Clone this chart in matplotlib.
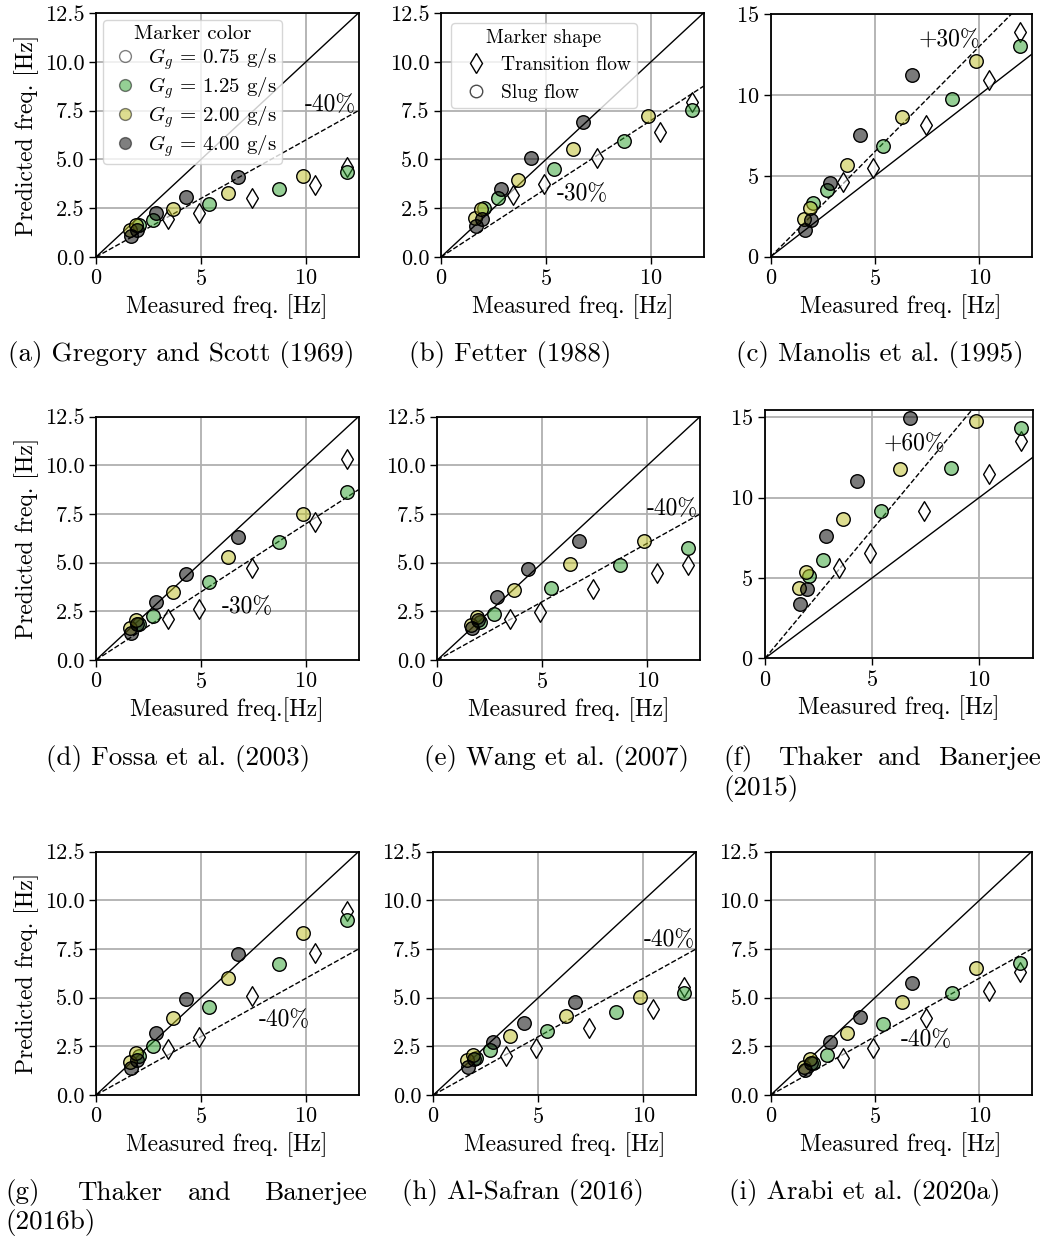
import numpy as np
import matplotlib
matplotlib.use("Agg")
import matplotlib.pyplot as plt
from matplotlib.lines import Line2D

plt.rcParams['font.family'] = 'cmr10'
plt.rcParams['mathtext.fontset'] = 'cm'
plt.rcParams['axes.formatter.use_mathtext'] = True

# measured frequencies [Hz], shared by every panel
meas_gray = [1.65, 1.95, 2.85, 4.3, 6.75]      # G_g = 4.00 g/s
meas_yellow = [1.6, 1.9, 3.65, 6.3, 9.85]      # G_g = 2.00 g/s
meas_green = [2.05, 2.7, 5.4, 8.7, 11.95]      # G_g = 1.25 g/s
meas_trans = [3.45, 4.9, 7.42, 10.45, 11.95]   # G_g = 0.75 g/s (transition flow)

# predicted frequencies per panel: [gray, yellow, green, transition]
pred_a = [[1.06, 1.37, 2.23, 3.08, 4.08], [1.37, 1.66, 2.45, 3.3, 4.16],
          [1.66, 1.88, 2.7, 3.48, 4.33], [1.93, 2.26, 3.0, 3.68, 4.62]]
pred_b = [[1.58, 1.97, 3.46, 5.09, 6.9], [2.02, 2.48, 3.94, 5.53, 7.23],
          [2.53, 3.0, 4.49, 5.94, 7.53], [3.17, 3.73, 5.09, 6.42, 7.96]]
pred_c = [[1.64, 2.26, 4.58, 7.54, 11.24], [2.36, 3.04, 5.65, 8.63, 12.12],
          [3.29, 4.11, 6.84, 9.72, 13.0], [4.62, 5.5, 8.15, 10.89, 13.87]]
pred_d = [[1.37, 1.83, 3.0, 4.42, 6.34], [1.66, 2.05, 3.51, 5.27, 7.5],
          [1.83, 2.28, 4.02, 6.08, 8.61], [2.09, 2.62, 4.71, 7.1, 10.33]]
pred_e = [[1.66, 2.05, 3.25, 4.66, 6.13], [1.8, 2.23, 3.6, 4.93, 6.13],
          [1.97, 2.36, 3.72, 4.88, 5.77], [2.09, 2.48, 3.65, 4.45, 4.88]]
pred_f = [[3.37, 4.32, 7.58, 11.01, 14.96], [4.4, 5.4, 8.68, 11.78, 14.75],
          [5.09, 6.13, 9.14, 11.84, 14.34], [5.61, 6.54, 9.18, 11.49, 13.55]]
pred_g = [[1.37, 1.8, 3.17, 4.91, 7.23], [1.71, 2.14, 3.94, 6.03, 8.34],
          [2.0, 2.52, 4.54, 6.71, 8.99], [2.36, 3.0, 5.1, 7.28, 9.47]]
pred_h = [[1.46, 1.83, 2.7, 3.72, 4.76], [1.8, 2.05, 3.05, 4.08, 5.05],
          [1.88, 2.31, 3.29, 4.28, 5.22], [2.0, 2.4, 3.42, 4.4, 5.57]]
pred_i = [[1.28, 1.66, 2.7, 4.02, 5.74], [1.46, 1.85, 3.2, 4.79, 6.54],
          [1.66, 2.05, 3.63, 5.22, 6.76], [1.88, 2.4, 3.94, 5.36, 6.34]]

captions = ["(a) Gregory and Scott (1969)", "(b) Fetter (1988)", "(c) Manolis et al. (1995)",
            "(d) Fossa et al. (2003)", "(e) Wang et al. (2007)", None,
            None, "(h) Al-Safran (2016)", "(i) Arabi et al. (2020a)"]
caption_x = [181, 510, 880, 178, 557, None, None, 523, 865]
deviation = [-0.4, -0.3, 0.3, -0.3, -0.4, 0.6, -0.4, -0.4, -0.4]
dev_text = ["-40%", "-30%", "+30%", "-30%", "-40%", "+60%", "-40%", "-40%", "-40%"]
dev_pos = [(9.95, 7.8), (5.5, 3.2), (7.1, 13.36), (6.0, 2.74), (9.95, 7.75),
           (5.54, 13.34), (7.73, 3.85), (10.0, 7.96), (6.23, 2.83)]
ymax = [12.5, 12.5, 15, 12.5, 12.5, 15.45, 12.5, 12.5, 12.5]
preds = [pred_a, pred_b, pred_c, pred_d, pred_e, pred_f, pred_g, pred_h, pred_i]

c_gray = (0, 0, 0, 0.52)
c_yellow = (0.737, 0.741, 0.133, 0.5)
c_green = (0.173, 0.627, 0.173, 0.5)

W, H = 1045, 1241
fig = plt.figure(figsize=(W / 100, H / 100), dpi=100)

# axes boxes in pixels: left, top, right, bottom
boxes = [(96, 13, 358.5, 257), (441, 13, 703.5, 257), (770.7, 14, 1031.5, 256.7),
         (96, 416.7, 358.5, 660), (437.3, 416.7, 700, 660), (765, 410, 1032.7, 658.3),
         (96, 851.7, 358.5, 1095), (433.3, 851.7, 696, 1095), (770.7, 851.7, 1031.5, 1095)]

ms = 95
for k in range(9):
    l, t, r, b = boxes[k]
    ax = fig.add_axes([l / W, 1 - b / H, (r - l) / W, (b - t) / H])
    p = preds[k]
    xl = np.array([0, 12.5])
    ax.plot(xl, xl, 'k-', lw=1.0, zorder=2)
    ax.plot(xl, (1 + deviation[k]) * xl, 'k--', lw=1.0, zorder=2)
    ax.scatter(meas_trans, p[3], s=100, marker='d', facecolor=(1, 1, 1, 0.6),
               edgecolor='k', linewidth=1.0, zorder=3)
    ax.scatter(meas_green, p[2], s=ms, facecolor=c_green, edgecolor='k', linewidth=1.0, zorder=3)
    ax.scatter(meas_yellow, p[1], s=ms, facecolor=c_yellow, edgecolor='k', linewidth=1.0, zorder=3)
    ax.scatter(meas_gray, p[0], s=ms, facecolor=c_gray, edgecolor='k', linewidth=1.0, zorder=3)
    ax.text(dev_pos[k][0], dev_pos[k][1], dev_text[k], fontsize=17, va='center',
            ha='left', clip_on=True, zorder=4)
    ax.set_xlim(0, 12.5)
    ax.set_ylim(0, ymax[k])
    ax.set_xticks([0, 5, 10])
    if ymax[k] > 13:
        ax.set_yticks([0, 5, 10, 15])
    else:
        ax.set_yticks([0, 2.5, 5, 7.5, 10, 12.5])
        ax.set_yticklabels(["0.0", "2.5", "5.0", "7.5", "10.0", "12.5"])
    ax.grid(True, color='#b0b0b0', lw=1.3, zorder=0)
    ax.set_axisbelow(True)
    for s in ax.spines.values():
        s.set_linewidth(1.3)
    ax.tick_params(labelsize=16, length=5, width=1)
    ax.set_xlabel("Measured freq.[Hz]" if k == 3 else "Measured freq. [Hz]", fontsize=17)
    if k % 3 == 0:
        ax.set_ylabel("Predicted freq. [Hz]", fontsize=17)

    if k == 0:
        hs = [Line2D([], [], ls='', marker='o', ms=8.5, mfc=c, mec='k', alpha=0.5)
              for c in ['w', c_green[:3], c_yellow[:3], 'k']]
        labs = [r"$G_g\,=\,0.75$ g/s", r"$G_g\,=\,1.25$ g/s", r"$G_g\,=\,2.00$ g/s",
                r"$G_g\,=\,4.00$ g/s"]
        ax.legend(hs, labs, title="Marker color", loc='upper left', fontsize=15,
                  title_fontsize=15, handletextpad=0.3, borderpad=0.25, labelspacing=0.15,
                  handlelength=1.6, borderaxespad=0.35)
    if k == 1:
        hs = [Line2D([], [], ls='', marker='d', ms=10, mfc='w', mec='k'),
              Line2D([], [], ls='', marker='o', ms=9, mfc='w', mec=(0, 0, 0, 0.7))]
        ax.legend(hs, ["Transition flow", "Slug flow"], title="Marker shape", loc='upper left',
                  fontsize=14, title_fontsize=14, handletextpad=0.3, borderpad=0.3)

    if captions[k] is not None:
        fig.text(caption_x[k] / W, 1 - (b + 98) / H, captions[k], fontsize=19.5,
                 ha='center', va='center')

# justified two-line captions
for x, word, ha in [(723, "(f)", 'left'), (778, "Thaker", 'left'), (878, "and", 'left'),
                    (1041, "Banerjee", 'right')]:
    fig.text(x / W, 1 - 758 / H, word, fontsize=19.5, ha=ha, va='center')
fig.text(723 / W, 1 - 788 / H, "(2015)", fontsize=19.5, ha='left', va='center')
for x, word, ha in [(5, "(g)", 'left'), (77, "Thaker", 'left'), (188, "and", 'left'),
                    (367, "Banerjee", 'right')]:
    fig.text(x / W, 1 - 1193 / H, word, fontsize=19.5, ha=ha, va='center')
fig.text(5 / W, 1 - 1222 / H, "(2016b)", fontsize=19.5, ha='left', va='center')

fig.savefig("out.png", dpi=100)
